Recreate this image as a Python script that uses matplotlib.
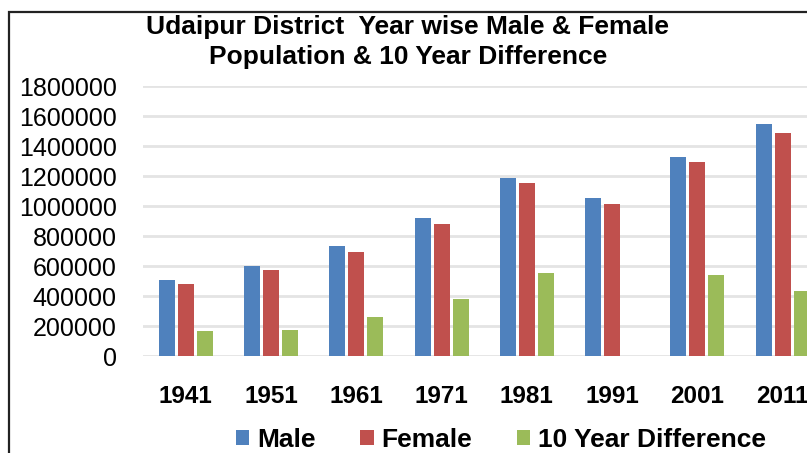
import matplotlib
matplotlib.use("Agg")
import matplotlib.pyplot as plt
import numpy as np
from matplotlib.patches import Rectangle

plt.rcParams["font.family"] = ["Liberation Sans", "DejaVu Sans"]

# census years and populations
years = ["1941", "1951", "1961", "1971", "1981", "1991", "2001", "2011"]
male = [507000, 599000, 733000, 918000, 1187000, 1054000, 1325000, 1548000]
female = [479000, 577000, 693000, 878000, 1156000, 1014000, 1294000, 1488000]
diff_10yr = [165000, 176000, 258000, 383000, 555000, 0, 539000, 432000]
series_names = ["Male", "Female", "10 Year Difference"]
yticks = np.arange(0, 1800001, 200000)

colors = ["#4F81BD", "#C0504D", "#9BBB59"]

W, H = 807, 453
fig = plt.figure(figsize=(W / 100, H / 100), dpi=100)

# outer chart border (runs off the right and bottom of the crop)
fig.patches.append(Rectangle((9 / W, -0.1), 1.2, (H - 12) / H + 0.1,
                             transform=fig.transFigure, fill=False,
                             edgecolor="#222222", linewidth=1.6))

# plot area deliberately runs past the right edge, like the source crop
left, right = 143, 143 + 8 * 85.3
bottom, top = H - 356, H - 86.3
ax = fig.add_axes([left / W, bottom / H, (right - left) / W, (top - bottom) / H])

x = np.arange(len(years))
step = 0.223
width = 0.1875
for i, (vals, name, c) in enumerate(zip([male, female, diff_10yr], series_names, colors)):
    ax.bar(x + (i - 1) * step, vals, width=width, color=c, label=name, zorder=3)

ax.set_xlim(-0.5, 7.5)
ax.set_ylim(0, 1800000)
ax.set_yticks(yticks)
ax.set_yticklabels([str(v) for v in yticks], fontsize=18)
ax.set_xticks(x)
ax.set_xticklabels(years, fontsize=17.5, fontweight="bold")
ax.tick_params(axis="y", length=0, pad=19)
ax.tick_params(axis="x", length=0, pad=21)
ax.grid(axis="y", color="#e4e4e4", linewidth=2, zorder=0)
for s in ax.spines.values():
    s.set_visible(False)
ax.set_axisbelow(True)

fig.text(408 / W, 1 - 42 / H,
         "Udaipur District  Year wise Male & Female\nPopulation & 10 Year Difference",
         ha="center", va="center", fontsize=19, fontweight="bold", linespacing=1.28)

fig.legend(loc="center", bbox_to_anchor=(501 / W, 13 / H), ncol=3, frameon=False,
           prop={"size": 19, "weight": "bold"}, handlelength=0.5, handleheight=0.5,
           handletextpad=0.3, columnspacing=1.7, borderaxespad=0, borderpad=0)

fig.savefig("out.png", dpi=100)
